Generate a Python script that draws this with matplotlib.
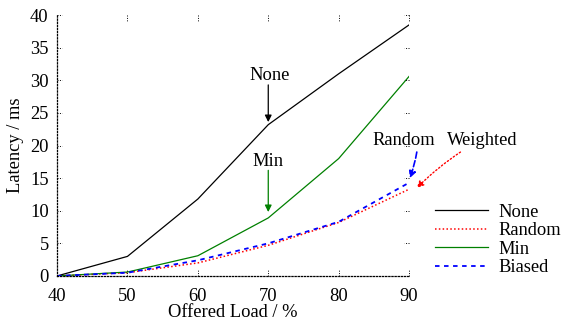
import numpy as np
import matplotlib
matplotlib.use("Agg")
import matplotlib.pyplot as plt

plt.rcParams.update({
    "font.family": ["Liberation Serif", "DejaVu Serif"],
    "font.size": 13.3,
})

# ── Data ──────────────────────────────────────────────────────────
load = [40, 50, 60, 70, 80, 90]
lat_none = [0.0, 3.0, 11.8, 23.2, 31.0, 38.5]
lat_random = [0.0, 0.5, 2.0, 4.7, 8.2, 13.3]
lat_min = [0.0, 0.6, 3.1, 8.9, 18.0, 30.6]
lat_biased = [0.0, 0.5, 2.4, 5.0, 8.3, 14.3]

xticks = [40, 50, 60, 70, 80, 90]
yticks = [0, 5, 10, 15, 20, 25, 30, 35, 40]

fig = plt.figure(figsize=(5.65, 3.22), dpi=100)
ax = fig.add_axes([0.101, 0.143, 0.623, 0.81])

ax.plot(load, lat_none, color="black", lw=0.9, label="None")
ax.plot(load, lat_random, color="red", lw=1.1, ls=(0, (1, 1.5)), label="Random")
ax.plot(load, lat_min, color="green", lw=0.9, label="Min")
ax.plot(load, lat_biased, color="blue", lw=1.3, ls=(0, (2.5, 2.5)), label="Biased")

ax.set_xlim(40, 90)
ax.set_ylim(0, 40)
ax.set_xticks(xticks)
ax.set_yticks(yticks)
ax.tick_params(axis="x", length=0, pad=9)
ax.tick_params(axis="y", length=0, pad=6)
ax.set_xlabel("Offered Load / %", labelpad=-1)
ax.set_ylabel("Latency / ms", labelpad=4)

# gnuplot-style border: dotted left/bottom only
for side in ("top", "right"):
    ax.spines[side].set_visible(False)
for side in ("left", "bottom"):
    ax.spines[side].set_linestyle((0, (1, 1.5)))
    ax.spines[side].set_linewidth(0.9)

# dotted inward tick marks, mirrored
tk = dict(color="black", lw=0.7, ls=(0, (1, 1.5)), clip_on=False)
for x in xticks[1:]:
    ax.plot([x, x], [0, 0.025], transform=ax.get_xaxis_transform(), **tk)
    ax.plot([x, x], [1, 0.975], transform=ax.get_xaxis_transform(), **tk)
for y in yticks[1:]:
    ax.plot([0, 0.015], [y, y], transform=ax.get_yaxis_transform(), **tk)
    ax.plot([1, 0.985], [y, y], transform=ax.get_yaxis_transform(), **tk)

# annotations
ax.text(70.2, 30.8, "None", ha="center", va="center")
ax.annotate("", xy=(70, 23.6), xytext=(70, 29.3),
            arrowprops=dict(arrowstyle="-|>", color="black", lw=0.9,
                            shrinkA=0, shrinkB=0, mutation_scale=10))
ax.text(70, 17.5, "Min", ha="center", va="center")
ax.annotate("", xy=(70, 9.8), xytext=(70, 16.2),
            arrowprops=dict(arrowstyle="-|>", color="green", lw=0.9,
                            shrinkA=0, shrinkB=0, mutation_scale=10))
ax.text(89.3, 20.8, "Random", ha="center", va="center", clip_on=False)
ax.annotate("", xy=(90.1, 15.0), xytext=(91.1, 19.0), annotation_clip=False,
            arrowprops=dict(arrowstyle="-|>", color="blue", lw=1.2, ls="--",
                            shrinkA=0, shrinkB=0, mutation_scale=10,
                            connectionstyle="arc3,rad=-0.05"))
ax.text(100.4, 20.8, "Weighted", ha="center", va="center", clip_on=False)
ax.annotate("", xy=(91.1, 13.5), xytext=(97.3, 19.0), annotation_clip=False,
            arrowprops=dict(arrowstyle="-|>", color="red", lw=1.0, ls=":",
                            shrinkA=0, shrinkB=0, mutation_scale=10,
                            connectionstyle="arc3,rad=0.05"))

ax.legend(loc="center left", bbox_to_anchor=(435 / 565, 1 - 240 / 322),
          bbox_transform=fig.transFigure, frameon=False,
          handlelength=2.87, handletextpad=0.55, labelspacing=0.08,
          borderpad=0, borderaxespad=0)

fig.savefig("out.png", dpi=100)
